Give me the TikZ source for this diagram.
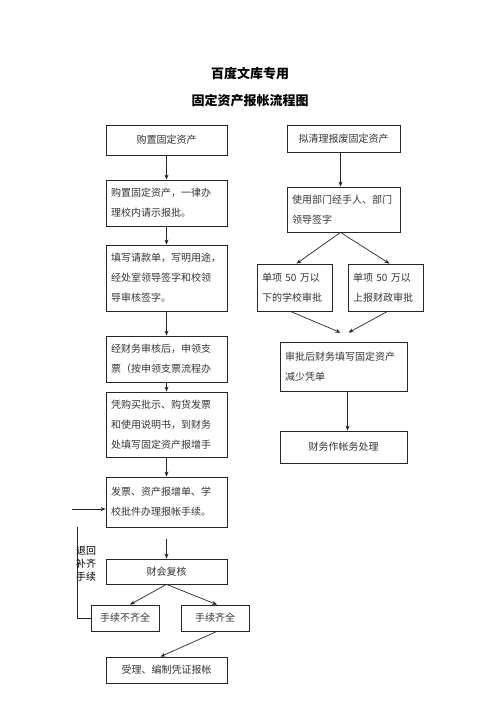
\documentclass[tikz,border=0pt]{standalone}
\usepackage{fontspec}
\setmainfont{Noto Sans CJK SC}
\newfontfamily\cjk{Noto Sans CJK SC}
\usetikzlibrary{arrows.meta}
\begin{document}
\begin{tikzpicture}[x=1pt,y=-1pt,
  kasten/.style={draw=black!85,line width=0.8pt,inner xsep=5pt,inner ysep=0pt,
    font=\fontsize{10}{20}\selectfont,text=black!80},
  pfeil/.style={line width=0.7pt,draw=black!85,-{Stealth[length=5pt,width=4pt]}},
  linie/.style={line width=0.7pt,draw=black!85}]
\useasboundingbox (0,0) rectangle (500,708);
%Titel
  \node (titel1) at (250,74) {\fontsize{13}{13}\selectfont\bfseries 百度文库专用};
  \node (titel2) at (250,101) {\fontsize{13}{13}\selectfont\bfseries 固定资产报帐流程图};
%linke Spalte
  \node[kasten,minimum width=121pt,minimum height=30pt] (kauf) at (166.5,140) {购置固定资产};
  \node[kasten,minimum width=121pt,minimum height=46pt,text width=111pt,align=left] (antrag) at (166.5,203)
    {购置固定资产，一律办\\理校内请示报批。};
  \node[kasten,minimum width=121pt,minimum height=66pt,text width=111pt,align=left] (kuandan) at (166.5,278)
    {填写请款单，写明用途，\\经处室领导签字和校领\\导审核签字。};
  \node[kasten,minimum width=121pt,minimum height=46pt,text width=111pt,align=left] (zhipiao) at (166.5,359)
    {经财务审核后，申领支\\票（按申领支票流程办};
  \node[kasten,minimum width=121pt,minimum height=65pt,text width=111pt,align=left] (zengjia) at (166.5,424.5)
    {凭购买批示、购货发票\\和使用说明书，到财务\\处填写固定资产报增手};
  \node[kasten,minimum width=121pt,minimum height=50pt,text width=111pt,align=left] (baozhang) at (166.5,502)
    {发票、资产报增单、学\\校批件办理报帐手续。};
  \node[kasten,minimum width=121pt,minimum height=25pt] (fuhe) at (166.5,571.5) {财会复核};
  \node[kasten,minimum width=68pt,minimum height=26pt,inner xsep=0pt] (unvoll) at (125,618) {手续不齐全};
  \node[kasten,minimum width=68pt,minimum height=26pt,inner xsep=0pt] (voll) at (215,618) {手续齐全};
  \node[kasten,minimum width=121pt,minimum height=26pt] (beleg) at (166.5,670) {受理、编制凭证报帐};
  \node[align=left,inner sep=0pt,anchor=north west,font=\fontsize{10}{13}\selectfont] (zurueck) at (76,546)
    {退回\\补齐\\手续};
%rechte Spalte
  \node[kasten,minimum width=113pt,minimum height=27pt] (abgang) at (343.5,138.5) {拟清理报废固定资产};
  \node[kasten,minimum width=113pt,minimum height=45pt,text width=103pt,align=left] (abteil) at (343.5,209.5)
    {使用部门经手人、部门\\领导签字};
  \node[kasten,minimum width=75pt,minimum height=47pt,text width=65pt,align=left] (schule) at (294.5,287.5)
    {单项 50 万以\\下的学校审批};
  \node[kasten,minimum width=75pt,minimum height=47pt,text width=65pt,align=left] (finanz) at (385.5,287.5)
    {单项 50 万以\\上报财政审批};
  \node[kasten,minimum width=127pt,minimum height=49pt,text width=117pt,align=left] (minder) at (343.5,366.5)
    {审批后财务填写固定资产\\减少凭单};
  \node[kasten,minimum width=127pt,minimum height=32pt] (buchung) at (343.5,447) {财务作帐务处理\\[-12pt]\mbox{}};
%Pfeile links
  \draw[pfeil] (kauf) -- (antrag);
  \draw[pfeil] (antrag) -- (kuandan);
  \draw[pfeil] (kuandan) -- (zhipiao);
  \draw[pfeil] (zhipiao) -- (zengjia);
  \draw[pfeil] (zengjia) -- (baozhang);
  \draw[pfeil,shorten <=12pt] (baozhang) -- (fuhe);
  \draw[pfeil] (fuhe.south) -- ([xshift=5pt]unvoll.north);
  \draw[pfeil] (fuhe.south) -- ([xshift=2pt]voll.north);
  \draw[pfeil] ([xshift=2pt]voll.south) -- ([xshift=-6pt]beleg.north);
%Rueckweg
  \coordinate (rueckoben) at (77,527);
  \coordinate (rueckein) at (72,509);
  \draw[linie] (unvoll.west) -| (rueckoben);
  \draw[pfeil] (rueckein) -- (baozhang.west |- rueckein);
%Pfeile rechts
  \draw[pfeil] ([xshift=-3pt]abgang.south) -- ([xshift=-3pt]abteil.north);
  \draw[pfeil] ([xshift=-3pt]abteil.south) -- ([xshift=2pt]schule.north);
  \draw[pfeil] ([xshift=-3pt]abteil.south) -- ([xshift=4pt]finanz.north);
  \draw[pfeil] ([xshift=-4pt]schule.south) -- ([xshift=-3pt,yshift=9pt]minder.north);
  \draw[pfeil] ([xshift=2pt]finanz.south) -- ([xshift=5pt,yshift=9pt]minder.north);
  \draw[pfeil] ([xshift=4pt]minder.south) -- ([xshift=4pt]buchung.north);
\end{tikzpicture}
\end{document}
